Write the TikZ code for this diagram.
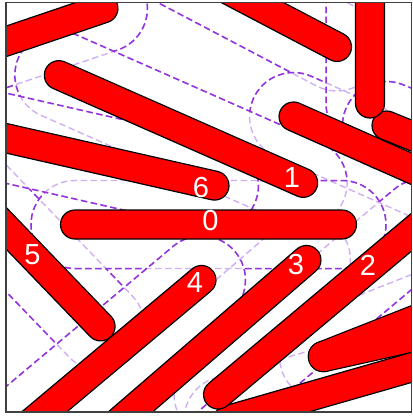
\documentclass[tikz,border=0pt]{standalone}
\usepackage{fontspec}
\setmainfont{Liberation Sans}
\usetikzlibrary{calc}
\definecolor{dk}{RGB}{148,52,222}
\definecolor{lt}{RGB}{208,176,243}
\definecolor{rodred}{RGB}{255,0,0}
% stadium: mid x, mid y, angle, half length, radius
\newcommand\stad[5]{($(#1,#2)+(#3+180:#4)+(#3+90:#5)$) -- ($(#1,#2)+(#3:#4)+(#3+90:#5)$) arc[start angle=#3+90, end angle=#3-90, radius=#5] -- ($(#1,#2)+(#3+180:#4)+(#3-90:#5)$) arc[start angle=#3-90, end angle=#3-270, radius=#5] -- cycle}
% enlarged capsules, in drawing order (an outline is lighter inside a later capsule)
\def\rodlist{1/218.8/-15.1/27.7, 2/415.6/170.6/23.9, 3/370/-30/90, 4/510.3/175.5/22, 5/-23/51.2/-18.7, 6/356.3/383.2/-16, 7/447.7/307.6/-21.5, 8/320.3/308.7/-40, 9/205.4/347.2/-40.8, 10/8/230.2/46.1, 11/181/129/23.79, 12/208.5/224.5/0, 13/99.2/365.8/-40, 14/84.3/156/12.8}
% rods drawn one by one (the merged pair at lower right is drawn apart)
\def\solidlist{356.3/383.2/-16, 510.3/175.5/22, 415.6/170.6/23.9, 370/-30/90, 218.8/-15.1/27.7, -23/51.2/-18.7, 208.5/224.5/0, 181/129/23.79, 320.3/308.7/-40, 205.4/347.2/-40.8, 99.2/365.8/-40, 8/230.2/46.1, 84.3/156/12.8}
\tikzset{
  ltdash/.style={draw=lt, line width=1.4pt, dash pattern=on 6.5pt off 3.5pt},
  dkdash/.style={draw=dk, line width=1.5pt, dash pattern=on 6.5pt off 3.5pt},
  rodst/.style={draw=black, fill=rodred, line width=1.2pt},
  lbl/.style={text=white, inner sep=0pt, anchor=center, font=\fontsize{29}{29}\selectfont}
}
\begin{document}
\begin{tikzpicture}[x=1pt,y=-1pt]
\useasboundingbox (0,0) rectangle (413,416);
\fill[white] (0,0) rectangle (413,416);
\begin{scope}
\clip (6,2.5) rectangle (411.5,412);
% light outlines of the enlarged capsules
\foreach \i/\mx/\my/\ph in \rodlist {
  \draw[ltdash] \stad{\mx}{\my}{\ph}{133.5}{44};
}
% dark parts: outside every capsule drawn later
\foreach \i/\mx/\my/\ph in \rodlist {
  \begin{scope}[even odd rule]
    \foreach \j/\nx/\ny/\ps in \rodlist {
      \ifnum\j>\i\relax
        \clip (-700,-700) rectangle (1200,1200) \stad{\nx}{\ny}{\ps}{133.5}{44};
      \fi
    }
    \draw[dkdash] \stad{\mx}{\my}{\ph}{133.5}{44};
  \end{scope}
}
% merged pair of rods at lower right
\draw[black, line width=2.4pt] \stad{447.7}{307.6}{-21.5}{133.5}{14.5};
\draw[black, line width=2.4pt] \stad{453.8}{327.6}{-12.5}{133.5}{14.5};
\fill[rodred] \stad{447.7}{307.6}{-21.5}{133.5}{14.5};
\fill[rodred] \stad{453.8}{327.6}{-12.5}{133.5}{14.5};
% rods
\foreach \mx/\my/\ph in \solidlist {
  \draw[rodst] \stad{\mx}{\my}{\ph}{133.5}{14.5};
}
\end{scope}
\node[lbl] (l0) at (210.5,220.5) {0};
\node[lbl] (l1) at (292,178) {1};
\node[lbl] (l2) at (368,265.5) {2};
\node[lbl] (l3) at (296,265) {3};
\node[lbl] (l4) at (195,283) {4};
\node[lbl] (l5) at (32.5,254.5) {5};
\node[lbl] (l6) at (201,187.5) {6};
\draw[line width=1.2pt, black!75] (6,2.5) rectangle (411.5,412);
\end{tikzpicture}
\end{document}
